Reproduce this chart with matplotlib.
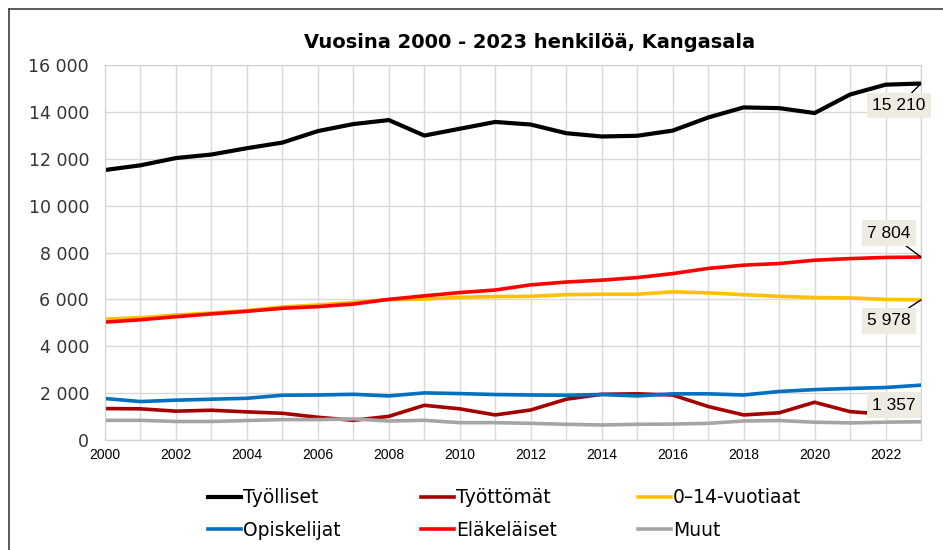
import matplotlib.pyplot as plt
from matplotlib.lines import Line2D
from matplotlib.ticker import FuncFormatter, MultipleLocator

# --- data ---
years = list(range(2000, 2024))

tyolliset = [11520, 11720, 12030, 12180, 12450, 12690, 13180, 13480, 13650, 12990,
             13280, 13570, 13460, 13090, 12950, 12980, 13200, 13760, 14190, 14160,
             13950, 14740, 15160, 15210]
tyottomat = [1340, 1330, 1230, 1270, 1200, 1140, 970, 840, 1010, 1480,
             1330, 1070, 1280, 1740, 1950, 1970, 1920, 1430, 1070, 1160,
             1610, 1210, 1100, 1357]
lapset = [5160, 5220, 5330, 5420, 5520, 5680, 5760, 5870, 5990, 6010,
          6090, 6120, 6130, 6200, 6220, 6220, 6320, 6280, 6200, 6130,
          6080, 6060, 6000, 5978]
opiskelijat = [1770, 1640, 1700, 1740, 1780, 1910, 1920, 1950, 1880, 2010,
               1980, 1940, 1920, 1910, 1940, 1880, 1970, 1970, 1920, 2070,
               2150, 2200, 2240, 2340]
elakelaiset = [5030, 5130, 5260, 5380, 5490, 5620, 5690, 5800, 6000, 6150,
               6290, 6400, 6620, 6740, 6820, 6930, 7100, 7320, 7460, 7530,
               7670, 7740, 7790, 7804]
muut = [840, 840, 790, 790, 830, 870, 870, 900, 810, 840,
        740, 740, 710, 670, 640, 670, 680, 710, 810, 830,
        760, 730, 760, 780]

fig = plt.figure(figsize=(9.43, 5.5), dpi=100)
ax = fig.add_axes([105 / 943, 110 / 550, 816 / 943, 375 / 550])

# thin frame lines at top and left of the image
fig.add_artist(Line2D([9 / 943, 1], [1 - 9 / 550, 1 - 9 / 550], color="#404040", lw=1.2))
fig.add_artist(Line2D([9 / 943, 9 / 943], [0, 1 - 9 / 550], color="#404040", lw=1.2))

l_tyott, = ax.plot(years, tyottomat, color="#A50000", lw=2.6, label="Työttömät")
l_muut, = ax.plot(years, muut, color="#A5A5A5", lw=2.6, label="Muut")
l_opis, = ax.plot(years, opiskelijat, color="#0070C0", lw=2.6, label="Opiskelijat")
l_lap, = ax.plot(years, lapset, color="#FFC000", lw=2.6, label="0–14-vuotiaat")
l_elak, = ax.plot(years, elakelaiset, color="#FF0000", lw=2.6, label="Eläkeläiset")
l_tyol, = ax.plot(years, tyolliset, color="#000000", lw=3.0, label="Työlliset")

ax.set_xlim(2000, 2023)
ax.set_ylim(0, 16000)
ax.xaxis.set_major_locator(MultipleLocator(2))
ax.xaxis.set_minor_locator(MultipleLocator(1))
ax.yaxis.set_major_locator(MultipleLocator(2000))
ax.yaxis.set_major_formatter(FuncFormatter(lambda v, p: f"{v:,.0f}".replace(",", " ")))
ax.grid(True, which="both", color="#D9D9D9", lw=1.0)
ax.set_axisbelow(True)
for s in ax.spines.values():
    s.set_color("#D0D0D0")
ax.tick_params(which="both", length=0)
ax.tick_params(axis="y", pad=11.5, labelsize=12.5, labelcolor="#333333")
ax.tick_params(axis="x", pad=6)
for t in ax.get_xticklabels():
    t.set_fontfamily("Liberation Sans")
    t.set_fontsize(10)

fig.text(0.562, 1 - 42 / 550, "Vuosina 2000 - 2023 henkilöä, Kangasala",
         ha="center", va="center", fontsize=14, fontweight="bold")

# value labels at the last year
box = dict(boxstyle="square,pad=0.3", fc="#EEECE1", ec="none")
arrow = dict(arrowstyle="-", color="black", lw=1, shrinkA=0, shrinkB=0)
ax.annotate("15 210", xy=(2023, tyolliset[-1]), xytext=(-22, -22), textcoords="offset pixels",
            ha="center", va="center", fontsize=12.5, family="Liberation Sans",
            bbox=box, arrowprops=arrow, annotation_clip=False)
ax.annotate("7 804", xy=(2023, elakelaiset[-1]), xytext=(-32, 24), textcoords="offset pixels",
            ha="center", va="center", fontsize=12.5, family="Liberation Sans",
            bbox=box, arrowprops=arrow, annotation_clip=False)
ax.annotate("5 978", xy=(2023, lapset[-1]), xytext=(-32, -21), textcoords="offset pixels",
            ha="center", va="center", fontsize=12.5, family="Liberation Sans",
            bbox=box, arrowprops=arrow, annotation_clip=False)
ax.annotate("1 357", xy=(2023, tyottomat[-1]), xytext=(-27, 3), textcoords="offset pixels",
            ha="center", va="center", fontsize=12.5, family="Liberation Sans",
            bbox=box, annotation_clip=False)

handles = [l_tyol, l_opis, l_tyott, l_elak, l_lap, l_muut]
fig.legend(handles=handles, labels=[h.get_label() for h in handles], ncol=3,
           loc="center", bbox_to_anchor=(0.535, 1 - 514 / 550), frameon=False,
           fontsize=13.5, handlelength=1.75, handletextpad=0.12, columnspacing=4.3,
           labelspacing=0.72)

fig.savefig("out.png", dpi=100)
